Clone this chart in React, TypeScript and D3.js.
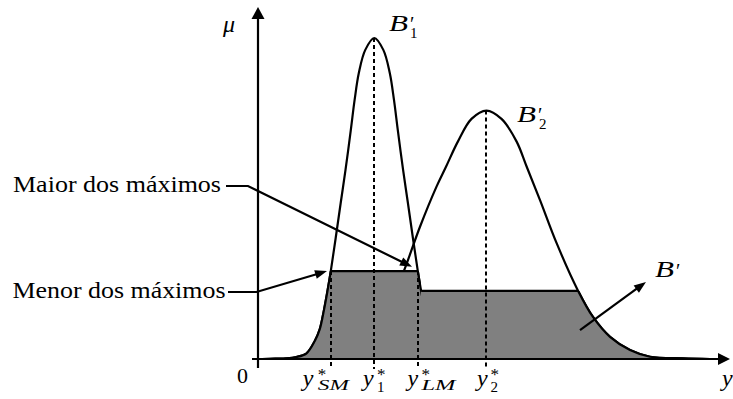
import React from "react";
import * as d3 from "d3";

const WIDTH = 733;
const HEIGHT = 399;

// B'1 membership function: [y, mu]
const curveB1: [number, number][] = [
  [0.091, 0], [0.367, 0.001], [0.6, 0.002], [0.811, 0.006], [1.023, 0.017],
  [1.203, 0.056], [1.309, 0.093], [1.394, 0.15], [1.472, 0.212], [1.542, 0.274],
  [1.646, 0.377], [1.752, 0.486], [1.854, 0.589], [1.966, 0.713], [2.047, 0.807],
  [2.136, 0.891], [2.273, 0.963], [2.464, 1.0], [2.655, 0.963], [2.792, 0.891],
  [2.881, 0.807], [2.962, 0.713], [3.074, 0.589], [3.176, 0.486], [3.282, 0.377],
  [3.386, 0.274], [3.456, 0.212], [3.534, 0.15], [3.619, 0.093], [3.725, 0.056],
  [3.905, 0.017], [4.117, 0.006], [4.328, 0.002], [4.561, 0.001], [4.837, 0],
];

// B'2 membership function: [y, mu]
const curveB2: [number, number][] = [
  [0.678, 0.002], [1.377, 0.007], [1.801, 0.028], [2.225, 0.069], [2.585, 0.131],
  [2.924, 0.215], [3.114, 0.283], [3.432, 0.412], [3.782, 0.537], [3.983, 0.599],
  [4.237, 0.678], [4.523, 0.748], [4.841, 0.774], [5.159, 0.748], [5.477, 0.678],
  [5.693, 0.599], [5.975, 0.495], [6.329, 0.36], [6.78, 0.213], [7.097, 0.131],
  [7.458, 0.069], [7.881, 0.028], [8.305, 0.007], [9.004, 0.002], [9.576, 0],
];

// clipping levels of the resulting set B'
const upperLevel = 0.274;
const lowerLevel = 0.212;
const upperCut: [number, number] = [1.542, 3.386];
const lowerCut: [number, number] = [3.456, 6.78];

// marked points on the y axis
const markerSubs = ["SM", "1", "LM", "2"];
const markerPos = [1.542, 2.464, 3.386, 4.841];
const markerTop = [0.274, 1.0, 0.274, 0.774];

// annotations
const annotationTexts = ["Maior dos máximos", "Menor dos máximos"];
const annotationTips: [number, number][] = [[3.263, 0.287], [1.462, 0.274]];
const setArrow: [number, number][] = [[6.822, 0.09], [8.22, 0.24]];

const x = d3.scaleLinear().domain([0, 10]).range([258, 730]);
const y = d3.scaleLinear().domain([0, 1]).range([359, 38]);

const curveType = d3.curveCatmullRom.alpha(0.5);
const line = d3
  .line<[number, number]>()
  .x((d) => x(d[0]))
  .y((d) => y(d[1]))
  .curve(curveType);
const area = d3
  .area<[number, number]>()
  .x((d) => x(d[0]))
  .y0(y(0))
  .y1((d) => y(d[1]))
  .curve(curveType);

const SW = 2.2;

function arrow(x1: number, y1: number, x2: number, y2: number, len = 12, half = 4.5) {
  const dx = x2 - x1;
  const dy = y2 - y1;
  const L = Math.hypot(dx, dy);
  const ux = dx / L;
  const uy = dy / L;
  const bx = x2 - ux * len;
  const by = y2 - uy * len;
  const px = -uy;
  const py = ux;
  return {
    bx: bx + ux * 1,
    by: by + uy * 1,
    points: `${x2},${y2} ${bx + px * half},${by + py * half} ${bx - px * half},${by - py * half}`,
  };
}

type TP = {
  x: number;
  y: number;
  size: number;
  italic?: boolean;
  len?: number;
  anchor?: string;
  children: React.ReactNode;
};

function T({ x, y, size, italic, len, anchor, children }: TP) {
  return (
    <text
      x={x}
      y={y}
      fontSize={size}
      fontFamily="Liberation Serif"
      fontStyle={italic ? "italic" : "normal"}
      textAnchor={anchor || "start"}
      textLength={len}
      lengthAdjust={len ? "spacingAndGlyphs" : undefined}
      style={{ fontFamily: '"Liberation Serif"' }}
      fill="#000"
    >
      {children}
    </text>
  );
}

export default function App() {
  const yA = y(upperLevel);
  const yB = y(lowerLevel);
  const base = y(0);

  const xAxisHead = arrow(252, base, 730, base, 12, 6);
  const yAxisHead = arrow(x(0), 368, x(0), 7, 12, 6.5);

  const maiorStart: [number, number] = [248, 186];
  const menorStart: [number, number] = [256.5, 292];
  const maiorTip = [x(annotationTips[0][0]), y(annotationTips[0][1])];
  const menorTip = [x(annotationTips[1][0]), y(annotationTips[1][1])];
  const maiorHead = arrow(maiorStart[0], maiorStart[1], maiorTip[0], maiorTip[1], 12, 4.5);
  const menorHead = arrow(menorStart[0], menorStart[1], menorTip[0], menorTip[1], 12, 4.5);
  const bS = [x(setArrow[0][0]), y(setArrow[0][1])];
  const bT = [x(setArrow[1][0]), y(setArrow[1][1])];
  const bHead = arrow(bS[0], bS[1], bT[0], bT[1], 12, 4.5);

  const yDx = [-28, -11.3, -10.3, -9.5];
  const scriptDx = [15, 14, 14, 13.5];
  const subLen = [31, 0, 34, 0];

  return (
    <svg
      width={WIDTH}
      height={HEIGHT}
      style={{ position: "absolute", left: 0, top: 0, background: "#fff" }}
    >
      <defs>
        <clipPath id="clipA">
          <rect x={0} y={yA} width={WIDTH} height={HEIGHT - yA} />
        </clipPath>
        <clipPath id="clipB">
          <rect x={0} y={yB} width={WIDTH} height={HEIGHT - yB} />
        </clipPath>
        <clipPath id="edge1">
          <rect x={0} y={yA} width={x(lowerCut[0])} height={HEIGHT - yA} />
        </clipPath>
        <clipPath id="edge2">
          <rect x={x(markerPos[3])} y={yB} width={WIDTH} height={HEIGHT - yB} />
        </clipPath>
      </defs>

      {/* full curves */}
      <path d={line(curveB1) || ""} fill="none" stroke="#000" strokeWidth={SW} />
      <path d={line(curveB2) || ""} fill="none" stroke="#000" strokeWidth={SW} />

      {/* resulting set B' */}
      <path d={area(curveB1) || ""} fill="#808080" clipPath="url(#clipA)" />
      <path d={area(curveB2) || ""} fill="#808080" clipPath="url(#clipB)" />

      {/* borders of B' */}
      <path d={line(curveB1) || ""} fill="none" stroke="#000" strokeWidth={SW} clipPath="url(#edge1)" />
      <path d={line(curveB2) || ""} fill="none" stroke="#000" strokeWidth={SW} clipPath="url(#edge2)" />
      <line x1={x(upperCut[0])} x2={x(upperCut[1])} y1={yA} y2={yA} stroke="#000" strokeWidth={SW} />
      <line x1={x(lowerCut[0])} x2={x(lowerCut[1])} y1={yB} y2={yB} stroke="#000" strokeWidth={SW} />

      {/* dashed markers */}
      {markerPos.map((p, i) => (
        <line
          key={"d" + i}
          x1={Math.round(x(p))}
          x2={Math.round(x(p))}
          y1={y(markerTop[i])}
          y2={369}
          stroke="#000"
          strokeWidth={2}
          strokeDasharray="4,3"
        />
      ))}

      {/* axes */}
      <line x1={252} y1={base} x2={xAxisHead.bx} y2={base} stroke="#000" strokeWidth={SW} />
      <polygon points={xAxisHead.points} fill="#000" />
      <line x1={x(0)} y1={368} x2={x(0)} y2={yAxisHead.by} stroke="#000" strokeWidth={SW} />
      <polygon points={yAxisHead.points} fill="#000" />

      {/* annotation arrows */}
      <polyline
        points={`226,186 ${maiorStart[0]},${maiorStart[1]} ${maiorHead.bx},${maiorHead.by}`}
        fill="none"
        stroke="#000"
        strokeWidth={SW}
      />
      <polygon points={maiorHead.points} fill="#000" />
      <polyline
        points={`228,292 ${menorStart[0]},${menorStart[1]} ${menorHead.bx},${menorHead.by}`}
        fill="none"
        stroke="#000"
        strokeWidth={SW}
      />
      <polygon points={menorHead.points} fill="#000" />
      <line x1={bS[0]} y1={bS[1]} x2={bHead.bx} y2={bHead.by} stroke="#000" strokeWidth={SW} />
      <polygon points={bHead.points} fill="#000" />

      {/* texts */}
      <T x={13} y={192} size={23.5} len={208}>{annotationTexts[0]}</T>
      <T x={12.5} y={297.5} size={23.5} len={213}>{annotationTexts[1]}</T>

      <T x={223} y={32} size={24} italic>μ</T>
      <T x={242.5} y={383} size={22} anchor="middle">0</T>
      <T x={722} y={386} size={24} italic>y</T>

      {/* B'1 */}
      <T x={389} y={31} size={24} italic len={19}>B</T>
      <T x={410} y={31} size={20}>′</T>
      <T x={410} y={38} size={15}>1</T>
      {/* B'2 */}
      <T x={517} y={122} size={24} italic len={19}>B</T>
      <T x={538} y={122} size={20}>′</T>
      <T x={539} y={129} size={15}>2</T>
      {/* B' */}
      <T x={655} y={277} size={24} italic len={19}>B</T>
      <T x={676} y={278} size={20}>′</T>

      {markerSubs.map((s, i) => {
        const x0 = x(markerPos[i]) + yDx[i];
        const sx = x0 + scriptDx[i];
        const isText = s.length > 1;
        return (
          <g key={"l" + i}>
            <T x={x0} y={386} size={24} italic>y</T>
            <T x={sx} y={380} size={17}>*</T>
            {isText ? (
              <T x={sx} y={390} size={15} italic len={subLen[i]}>{s}</T>
            ) : (
              <T x={sx} y={392} size={15}>{s}</T>
            )}
          </g>
        );
      })}
    </svg>
  );
}
